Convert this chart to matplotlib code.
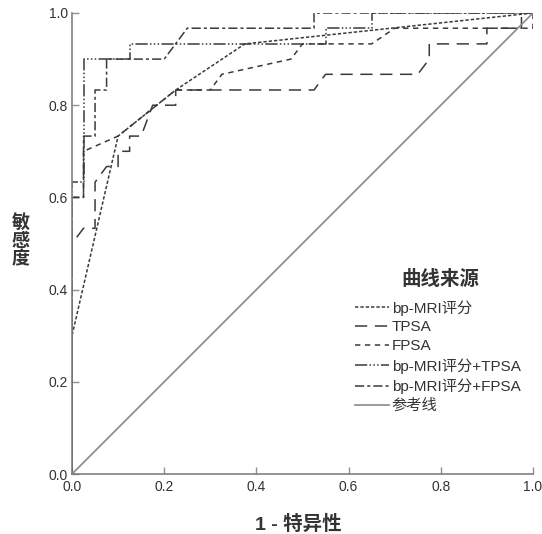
import matplotlib
matplotlib.use("Agg")
import matplotlib.pyplot as plt

plt.rcParams['font.family'] = ['Liberation Sans', 'Noto Sans CJK SC', 'DejaVu Sans']

# ---- data (1 - specificity, sensitivity) ----
bp_mri_x = [0, 0, 0.1, 0.225, 0.375, 1]
bp_mri_y = [0, 0.3, 0.733, 0.833, 0.933, 1]

tpsa_x = [0, 0, 0.025, 0.05, 0.05, 0.075, 0.1, 0.1, 0.125, 0.125, 0.15, 0.175, 0.225, 0.225,
          0.525, 0.55, 0.75, 0.775, 0.775, 0.9, 0.9, 0.975, 0.975, 1]
tpsa_y = [0, 0.5, 0.533, 0.533, 0.633, 0.667, 0.667, 0.7, 0.7, 0.733, 0.733, 0.8, 0.8, 0.833,
          0.833, 0.867, 0.867, 0.9, 0.933, 0.933, 0.967, 0.967, 1, 1]

fpsa_x = [0, 0, 0.025, 0.025, 0.1, 0.225, 0.3, 0.325, 0.475, 0.5, 0.65, 0.7, 1, 1]
fpsa_y = [0, 0.6, 0.6, 0.7, 0.733, 0.833, 0.833, 0.867, 0.9, 0.933, 0.933, 0.967, 0.967, 1]

bp_tpsa_x = [0, 0, 0.025, 0.025, 0.125, 0.125, 0.55, 0.55, 0.65, 0.65, 1]
bp_tpsa_y = [0, 0.633, 0.633, 0.9, 0.9, 0.933, 0.933, 0.967, 0.967, 1, 1]

bp_fpsa_x = [0, 0, 0.025, 0.025, 0.05, 0.05, 0.075, 0.075, 0.2, 0.25, 0.525, 0.525, 1]
bp_fpsa_y = [0, 0.6, 0.6, 0.733, 0.733, 0.833, 0.833, 0.9, 0.9, 0.967, 0.967, 1, 1]

ref_x = [0, 1]
ref_y = [0, 1]

labels = ['bp-MRI评分', 'TPSA', 'FPSA', 'bp-MRI评分+TPSA', 'bp-MRI评分+FPSA', '参考线']
legend_title = '曲线来源'
ticks = [0.0, 0.2, 0.4, 0.6, 0.8, 1.0]
tick_labels = ['0.0', '0.2', '0.4', '0.6', '0.8', '1.0']

# ---- figure ----
fig = plt.figure(figsize=(5.42, 5.34), dpi=100)
ax = fig.add_axes([72/542, 60/534, 461/542, 461/534])

dark = '#3a3a3a'
styles = [
    dict(color=dark, lw=1.1, dashes=(2.2, 1.3)),
    dict(color=dark, lw=1.1, dashes=(8, 5)),
    dict(color=dark, lw=1.1, dashes=(3.5, 3)),
    dict(color=dark, lw=1.1, dashes=(8, 1.5, 1, 1.5, 1, 1.5, 1, 1.5)),
    dict(color=dark, lw=1.1, dashes=(6, 2, 2, 2)),
    dict(color='#8a8a8a', lw=1.2, linestyle='-'),
]
series = [(bp_mri_x, bp_mri_y), (tpsa_x, tpsa_y), (fpsa_x, fpsa_y),
          (bp_tpsa_x, bp_tpsa_y), (bp_fpsa_x, bp_fpsa_y), (ref_x, ref_y)]

handles = []
for (xs, ys), st, lab in zip(series, styles, labels):
    ln, = ax.plot(xs, ys, label=lab, **st)
    handles.append(ln)

ax.set_xlim(0, 1)
ax.set_ylim(0, 1)
for s in ['top', 'right']:
    ax.spines[s].set_visible(False)
for s in ['left', 'bottom']:
    ax.spines[s].set_color('#808080')
    ax.spines[s].set_linewidth(1.2)

ax.set_xticks(ticks)
ax.set_xticklabels(tick_labels)
ax.set_yticks(ticks)
ax.set_yticklabels(tick_labels)
ax.tick_params(direction='in', length=5, width=1, color='#909090',
               labelcolor='#333333', labelsize=10)
ax.tick_params(axis='x', pad=4)
ax.tick_params(axis='y', pad=3)

fig.text(21/542, 1 - 241/534, '敏\n感\n度', ha='center', va='center',
         fontsize=13, fontweight='bold', color='#333333', linespacing=1.1)
fig.text(298/542, 1 - 524/534, '1 - 特异性', ha='center', va='center',
         fontsize=14, fontweight='bold', color='#333333')

fig.text(440/542, 1 - 279/534, legend_title, ha='center', va='center',
         fontsize=14, fontweight='bold', color='#333333')

leg = ax.legend(handles=handles, labels=labels, frameon=False,
                loc='upper left', bbox_to_anchor=(355/542, 1 - 300/534),
                bbox_transform=fig.transFigure,
                fontsize=11, handlelength=2.25, handletextpad=0.15,
                labelspacing=0.32, borderaxespad=0, borderpad=0)
for t in leg.get_texts():
    t.set_color('#333333')

fig.savefig('out.png', dpi=100)
